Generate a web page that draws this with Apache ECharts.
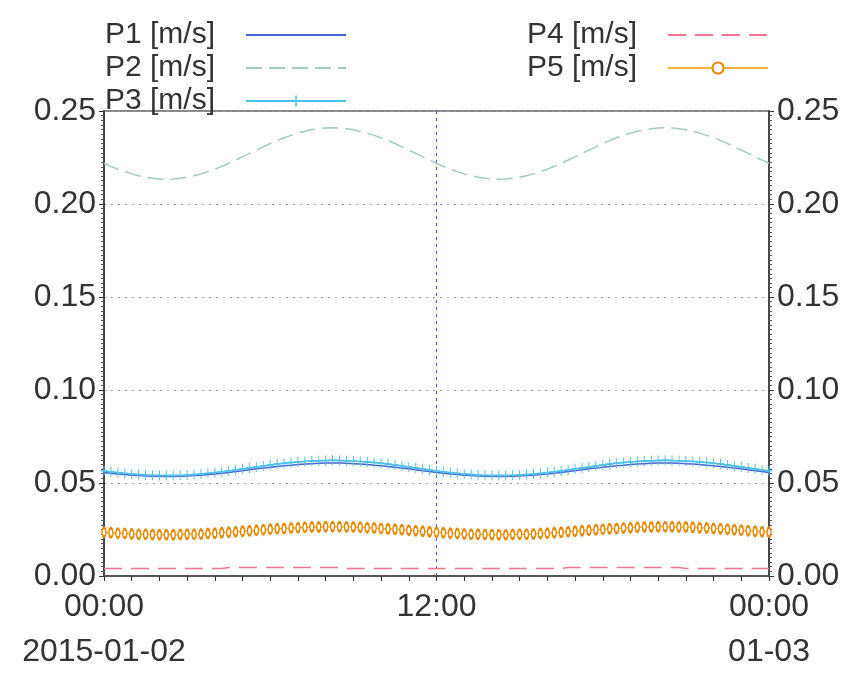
<!DOCTYPE html>
<html>
<head>
<meta charset="utf-8">
<script src="https://cdn.jsdelivr.net/npm/echarts@6/dist/echarts.min.js"></script>
<style>
  html, body { margin: 0; padding: 0; background: #fff; }
  #chart { width: 858px; height: 675px; }
</style>
</head>
<body>
<div id="chart"></div>
<script>
// 15 minute samples, 2015-01-02 00:00 .. 2015-01-03 00:00
var times = []
for (var i = 0; i <= 96; i++) {
  var h = Math.floor(i / 4) % 24
  var m = (i % 4) * 15
  var day = i === 96 ? '2015-01-03' : '2015-01-02'
  times.push(day + ' ' + (h < 10 ? '0' + h : h) + ':' + (m < 10 ? '0' + m : m))
}

var seriesNames = ['P1 [m/s]', 'P2 [m/s]', 'P3 [m/s]', 'P4 [m/s]', 'P5 [m/s]']

var p1 = [
  0.0557, 0.0553, 0.0549, 0.0546, 0.0542, 0.0540, 0.0538, 0.0536, 0.0535, 0.0535, 0.0535, 0.0536, 0.0538, 0.0540, 0.0542, 0.0546,
  0.0549, 0.0553, 0.0557, 0.0562, 0.0566, 0.0571, 0.0576, 0.0580, 0.0585, 0.0589, 0.0593, 0.0596, 0.0600, 0.0602, 0.0604, 0.0606,
  0.0607, 0.0607, 0.0607, 0.0606, 0.0604, 0.0602, 0.0600, 0.0596, 0.0593, 0.0589, 0.0585, 0.0580, 0.0576, 0.0571, 0.0566, 0.0562,
  0.0557, 0.0553, 0.0549, 0.0546, 0.0542, 0.0540, 0.0538, 0.0536, 0.0535, 0.0535, 0.0535, 0.0536, 0.0538, 0.0540, 0.0542, 0.0546,
  0.0549, 0.0553, 0.0557, 0.0562, 0.0566, 0.0571, 0.0576, 0.0580, 0.0585, 0.0589, 0.0593, 0.0596, 0.0600, 0.0602, 0.0604, 0.0606,
  0.0607, 0.0607, 0.0607, 0.0606, 0.0604, 0.0602, 0.0600, 0.0596, 0.0593, 0.0589, 0.0585, 0.0580, 0.0576, 0.0571, 0.0566, 0.0562,
  0.0557
]
var p2 = [
  0.2219, 0.2202, 0.2187, 0.2174, 0.2162, 0.2152, 0.2144, 0.2138, 0.2134, 0.2133, 0.2134, 0.2138, 0.2144, 0.2152, 0.2162, 0.2174,
  0.2187, 0.2202, 0.2219, 0.2236, 0.2253, 0.2272, 0.2290, 0.2307, 0.2325, 0.2341, 0.2356, 0.2369, 0.2381, 0.2391, 0.2399, 0.2405,
  0.2409, 0.2410, 0.2409, 0.2405, 0.2399, 0.2391, 0.2381, 0.2369, 0.2356, 0.2341, 0.2325, 0.2307, 0.2290, 0.2272, 0.2253, 0.2236,
  0.2219, 0.2202, 0.2187, 0.2174, 0.2162, 0.2152, 0.2144, 0.2138, 0.2134, 0.2133, 0.2134, 0.2138, 0.2144, 0.2152, 0.2162, 0.2174,
  0.2187, 0.2202, 0.2219, 0.2236, 0.2253, 0.2272, 0.2290, 0.2307, 0.2325, 0.2341, 0.2356, 0.2369, 0.2381, 0.2391, 0.2399, 0.2405,
  0.2409, 0.2410, 0.2409, 0.2405, 0.2399, 0.2391, 0.2381, 0.2369, 0.2356, 0.2341, 0.2325, 0.2307, 0.2290, 0.2272, 0.2253, 0.2236,
  0.2219
]
var p3 = [
  0.0565, 0.0561, 0.0556, 0.0552, 0.0549, 0.0546, 0.0543, 0.0541, 0.0540, 0.0540, 0.0540, 0.0541, 0.0543, 0.0546, 0.0549, 0.0552,
  0.0556, 0.0561, 0.0565, 0.0570, 0.0576, 0.0581, 0.0586, 0.0592, 0.0597, 0.0602, 0.0606, 0.0610, 0.0613, 0.0616, 0.0618, 0.0620,
  0.0621, 0.0622, 0.0621, 0.0620, 0.0618, 0.0616, 0.0613, 0.0610, 0.0606, 0.0602, 0.0597, 0.0592, 0.0586, 0.0581, 0.0576, 0.0570,
  0.0565, 0.0561, 0.0556, 0.0552, 0.0549, 0.0546, 0.0543, 0.0541, 0.0540, 0.0540, 0.0540, 0.0541, 0.0543, 0.0546, 0.0549, 0.0552,
  0.0556, 0.0561, 0.0565, 0.0570, 0.0576, 0.0581, 0.0586, 0.0592, 0.0597, 0.0602, 0.0606, 0.0610, 0.0613, 0.0616, 0.0618, 0.0620,
  0.0621, 0.0622, 0.0621, 0.0620, 0.0618, 0.0616, 0.0613, 0.0610, 0.0606, 0.0602, 0.0597, 0.0592, 0.0586, 0.0581, 0.0576, 0.0570,
  0.0565
]
var p4 = [
  0.0040, 0.0040, 0.0040, 0.0040, 0.0040, 0.0040, 0.0040, 0.0040, 0.0040, 0.0040, 0.0040, 0.0040, 0.0040, 0.0040, 0.0040, 0.0040,
  0.0040, 0.0040, 0.0046, 0.0046, 0.0046, 0.0046, 0.0046, 0.0046, 0.0046, 0.0046, 0.0046, 0.0046, 0.0046, 0.0046, 0.0046, 0.0046,
  0.0046, 0.0046, 0.0046, 0.0040, 0.0040, 0.0040, 0.0040, 0.0040, 0.0040, 0.0040, 0.0040, 0.0040, 0.0040, 0.0040, 0.0040, 0.0040,
  0.0040, 0.0040, 0.0040, 0.0040, 0.0040, 0.0040, 0.0040, 0.0040, 0.0040, 0.0040, 0.0040, 0.0040, 0.0040, 0.0040, 0.0040, 0.0040,
  0.0040, 0.0040, 0.0040, 0.0046, 0.0046, 0.0046, 0.0046, 0.0046, 0.0046, 0.0046, 0.0046, 0.0046, 0.0046, 0.0046, 0.0046, 0.0046,
  0.0046, 0.0046, 0.0046, 0.0046, 0.0040, 0.0040, 0.0040, 0.0040, 0.0040, 0.0040, 0.0040, 0.0040, 0.0040, 0.0040, 0.0040, 0.0040,
  0.0040
]
var p5 = [
  0.0235, 0.0233, 0.0230, 0.0228, 0.0226, 0.0225, 0.0224, 0.0223, 0.0222, 0.0222, 0.0222, 0.0223, 0.0224, 0.0225, 0.0226, 0.0228,
  0.0230, 0.0233, 0.0235, 0.0238, 0.0241, 0.0243, 0.0246, 0.0249, 0.0251, 0.0254, 0.0256, 0.0258, 0.0260, 0.0262, 0.0263, 0.0264,
  0.0265, 0.0265, 0.0265, 0.0264, 0.0263, 0.0262, 0.0260, 0.0258, 0.0256, 0.0254, 0.0251, 0.0249, 0.0246, 0.0243, 0.0241, 0.0238,
  0.0235, 0.0233, 0.0230, 0.0228, 0.0226, 0.0225, 0.0224, 0.0223, 0.0222, 0.0222, 0.0222, 0.0223, 0.0224, 0.0225, 0.0226, 0.0228,
  0.0230, 0.0233, 0.0235, 0.0238, 0.0241, 0.0243, 0.0246, 0.0249, 0.0251, 0.0254, 0.0256, 0.0258, 0.0260, 0.0262, 0.0263, 0.0264,
  0.0265, 0.0265, 0.0265, 0.0264, 0.0263, 0.0262, 0.0260, 0.0258, 0.0256, 0.0254, 0.0251, 0.0249, 0.0246, 0.0243, 0.0241, 0.0238,
  0.0235
]

// x labels: index -> text
var xLabels = { 0: '00:00\n2015-01-02', 48: '12:00', 96: '00:00\n01-03' }

var font = "'Liberation Sans', Arial, sans-serif"
var plus = 'path://M4.3,0h1.4v10h-1.4z M0,4.3h10v1.4h-10z'
// hide the dot that echarts puts on line legend icons
var noDot = { opacity: 0 }

var chart = echarts.init(document.getElementById('chart'))

var yAxisBase = {
  type: 'value',
  min: 0,
  max: 0.25,
  interval: 0.05,
  axisLine: { show: true, lineStyle: { color: '#333', width: 1.5 } },
  axisTick: { show: true, inside: false, length: 5, lineStyle: { color: '#333' } },
  minorTick: { show: true, splitNumber: 20, length: 3, lineStyle: { color: '#555' } },
  axisLabel: {
    fontSize: 32,
    fontFamily: font,
    color: '#333',
    formatter: function(v) { return v.toFixed(2) }
  }
}

var legendText = { fontSize: 30, lineHeight: 30, fontFamily: font, color: '#333', padding: [0, 26, 0, 0] }

chart.setOption({
  animation: false,
  backgroundColor: '#fff',
  grid: {
    left: 104,
    right: 89,
    top: 111,
    bottom: 99,
    show: true,
    borderColor: '#888',
    borderWidth: 2,
    backgroundColor: 'transparent'
  },
  legend: [{
    data: [
      { name: seriesNames[0], itemStyle: noDot },
      { name: seriesNames[1], itemStyle: noDot },
      { name: seriesNames[2] }
    ],
    orient: 'vertical',
    left: 105,
    top: 20,
    padding: 0,
    align: 'right',
    itemWidth: 100,
    itemHeight: 14,
    itemGap: 3,
    textStyle: legendText
  }, {
    data: [
      { name: seriesNames[3], itemStyle: noDot },
      { name: seriesNames[4] }
    ],
    orient: 'vertical',
    left: 527,
    top: 20,
    padding: 0,
    align: 'right',
    itemWidth: 100,
    itemHeight: 14,
    itemGap: 3,
    textStyle: legendText
  }],
  xAxis: {
    type: 'category',
    data: times,
    boundaryGap: false,
    axisLine: { show: true, lineStyle: { color: '#555', width: 2 } },
    axisTick: { show: true, interval: 3, length: 5, inside: false, lineStyle: { color: '#333' } },
    axisLabel: {
      interval: 47,
      margin: 9,
      fontSize: 32,
      lineHeight: 45,
      fontFamily: font,
      color: '#333',
      formatter: function(v, idx) { return xLabels[idx] || '' }
    },
    splitLine: { show: true, interval: 47, lineStyle: { color: '#4a5ae0', type: [3, 4], width: 1 } }
  },
  yAxis: [
    Object.assign({}, yAxisBase, {
      position: 'left',
      splitLine: { show: true, lineStyle: { color: '#9a9a9a', type: [2, 5], width: 1.2 } }
    }),
    Object.assign({}, yAxisBase, {
      position: 'right',
      splitLine: { show: false }
    })
  ],
  series: [{
    name: seriesNames[1],
    type: 'line',
    data: p2,
    symbol: 'none',
    z: 2,
    lineStyle: { color: '#a3cbbe', width: 1.5, type: [16, 7] },
    itemStyle: { color: '#a3cbbe' }
  }, {
    name: seriesNames[0],
    type: 'line',
    data: p1,
    symbol: 'none',
    z: 3,
    lineStyle: { color: '#4a62d0', width: 1.5 },
    itemStyle: { color: '#4a62d0' }
  }, {
    name: seriesNames[2],
    type: 'line',
    data: p3,
    symbol: plus,
    symbolSize: [7, 10],
    showAllSymbol: true,
    z: 4,
    lineStyle: { color: '#4cc0ea', width: 1.5 },
    itemStyle: { color: '#4cc0ea' }
  }, {
    name: seriesNames[3],
    type: 'line',
    data: p4,
    symbol: 'none',
    z: 3,
    lineStyle: { color: '#f27590', width: 1.5, type: [18, 9] },
    itemStyle: { color: '#f27590' }
  }, {
    name: seriesNames[4],
    type: 'line',
    data: p5,
    symbol: 'emptyCircle',
    symbolSize: [4, 9],
    showAllSymbol: true,
    z: 4,
    lineStyle: { color: '#f5b435', width: 1.5 },
    itemStyle: { color: '#e38800', borderColor: '#e38800', borderWidth: 1.2 }
  }]
})
</script>
</body>
</html>
